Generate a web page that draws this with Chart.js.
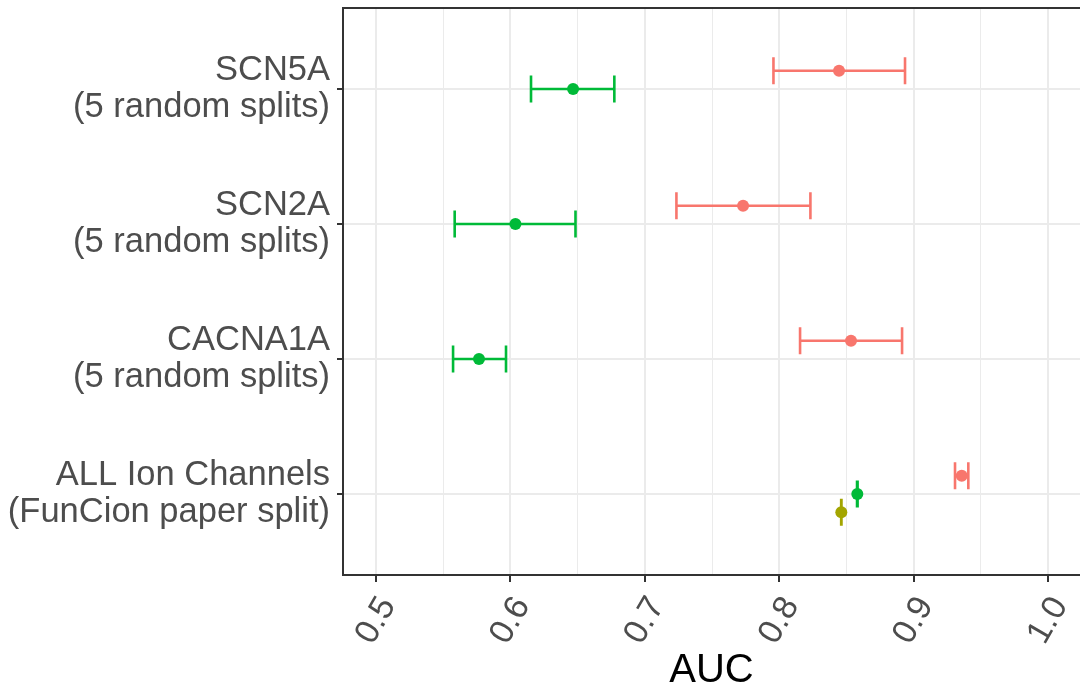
<!DOCTYPE html>
<html>
<head>
<meta charset="utf-8">
<script src="https://cdn.jsdelivr.net/npm/chart.js@4.4.1/dist/chart.umd.min.js"></script>
<style>
  html, body { margin: 0; padding: 0; background: #fff; }
  #wrap { width: 1080px; height: 687px; }
</style>
</head>
<body>
<div id="wrap"><canvas id="aucChart"></canvas></div>
<script>
// categories, top to bottom
const categories = [
  ["SCN5A", "(5 random splits)"],
  ["SCN2A", "(5 random splits)"],
  ["CACNA1A", "(5 random splits)"],
  ["ALL Ion Channels", "(FunCion paper split)"]
];

// values (null = no point in that row)
const redAuc    = [0.8445, 0.7731, 0.8534, 0.9358];
const redLow    = [0.7957, 0.7235, 0.8155, 0.9308];
const redHigh   = [0.8936, 0.8232, 0.8914, 0.9407];

const greenAuc  = [0.6466, 0.6037, 0.5766, 0.8581];
const greenLow  = [0.6153, 0.5585, 0.5573, 0.8579];
const greenHigh = [0.6773, 0.6484, 0.5967, 0.8583];

const oliveAuc  = [null, null, null, 0.8462];
const oliveLow  = [null, null, null, 0.8461];
const oliveHigh = [null, null, null, 0.8463];

const xMajorTicks = [0.5, 0.6, 0.7, 0.8, 0.9, 1.0];
const xMinorTicks = [0.55, 0.65, 0.75, 0.85, 0.95];

const FONT = "'Liberation Sans', Arial, Helvetica, sans-serif";

function makePoints(mid, lo, hi, dodge) {
    let pts = [];
    for (let i = 0; i < mid.length; i++) {
        if (mid[i] === null) continue;
        pts.push({ x: mid[i], y: i + dodge, lo: lo[i], hi: hi[i] });
    }
    return pts;
}

function isMajor(v) {
    return xMajorTicks.some(t => Math.abs(t - v) < 1e-9);
}

// horizontal error bars with end caps, drawn under the points
const errorBars = {
    id: "errorBars",
    beforeDatasetsDraw(chart) {
        const ctx = chart.ctx;
        const xs = chart.scales.x, ys = chart.scales.y;
        chart.data.datasets.forEach(ds => {
            ctx.save();
            ctx.strokeStyle = ds.borderColor;
            ctx.lineWidth = 2.6;
            ds.data.forEach(p => {
                const x1 = xs.getPixelForValue(p.lo);
                const x2 = xs.getPixelForValue(p.hi);
                const y = ys.getPixelForValue(p.y);
                const c1 = ys.getPixelForValue(p.y - 0.1);
                const c2 = ys.getPixelForValue(p.y + 0.1);
                ctx.beginPath();
                ctx.moveTo(x1, y); ctx.lineTo(x2, y);
                ctx.moveTo(x1, c1); ctx.lineTo(x1, c2);
                ctx.moveTo(x2, c1); ctx.lineTo(x2, c2);
                ctx.stroke();
            });
            ctx.restore();
        });
    }
};

// top edge of the panel frame
const panelTop = {
    id: "panelTop",
    afterDraw(chart) {
        const a = chart.chartArea, ctx = chart.ctx;
        ctx.save();
        ctx.strokeStyle = "#333333";
        ctx.lineWidth = 2;
        ctx.beginPath();
        ctx.moveTo(a.left - 1, a.top);
        ctx.lineTo(a.right + 1, a.top);
        ctx.stroke();
        ctx.restore();
    }
};

let chart = new Chart(document.getElementById("aucChart"), {
    type: "scatter",
    data: {
        datasets: [
            {
                label: "red",
                data: makePoints(redAuc, redLow, redHigh, -0.135),
                backgroundColor: "#F8766D",
                borderColor: "#F8766D",
                pointRadius: 6,
                borderWidth: 0
            },
            {
                label: "green",
                data: makePoints(greenAuc, greenLow, greenHigh, 0),
                backgroundColor: "#00BA38",
                borderColor: "#00BA38",
                pointRadius: 6,
                borderWidth: 0
            },
            {
                label: "olive",
                data: makePoints(oliveAuc, oliveLow, oliveHigh, 0.135),
                backgroundColor: "#A3A500",
                borderColor: "#A3A500",
                pointRadius: 6,
                borderWidth: 0
            }
        ]
    },
    options: {
        responsive: true,
        maintainAspectRatio: false,
        animation: false,
        layout: {
            autoPadding: false,
            padding: { top: 8, right: 0, left: 0, bottom: 0 }
        },
        plugins: {
            legend: { display: false },
            tooltip: { enabled: false }
        },
        scales: {
            x: {
                type: "linear",
                min: 0.4754,
                max: 1.0238,
                afterBuildTicks: function(scale) {
                    scale.ticks = xMajorTicks.concat(xMinorTicks)
                        .sort((a, b) => a - b)
                        .map(v => ({ value: v }));
                },
                afterFit: function(scale) {
                    scale.height = 112;
                    scale.paddingLeft = 0;
                    scale.paddingRight = 0;
                },
                grid: {
                    color: "#EBEBEB",
                    lineWidth: ctx => isMajor(ctx.tick.value) ? 2 : 1,
                    tickColor: ctx => isMajor(ctx.tick.value) ? "#333333" : "rgba(0,0,0,0)",
                    tickLength: 7,
                    tickWidth: 2
                },
                border: { color: "#333333", width: 2 },
                ticks: {
                    autoSkip: false,
                    minRotation: 60,
                    maxRotation: 60,
                    labelOffset: 12,
                    padding: 8,
                    color: "#4D4D4D",
                    font: { family: FONT, size: 34 },
                    callback: value => isMajor(value) ? value.toFixed(1) : ""
                },
                title: {
                    display: true,
                    text: "AUC",
                    color: "#000000",
                    font: { family: FONT, size: 40, lineHeight: 1 },
                    padding: { top: 0, bottom: -4 }
                }
            },
            y: {
                type: "linear",
                reverse: true,
                min: -0.6,
                max: 3.6,
                afterBuildTicks: function(scale) {
                    scale.ticks = categories.map((c, i) => ({ value: i }));
                },
                afterFit: function(scale) {
                    scale.width = 343;
                    scale.paddingTop = 0;
                    scale.paddingBottom = 0;
                },
                grid: {
                    color: "#EBEBEB",
                    lineWidth: 2,
                    tickColor: "#333333",
                    tickLength: 6,
                    tickWidth: 2
                },
                border: { color: "#333333", width: 2 },
                ticks: {
                    autoSkip: false,
                    padding: 7,
                    color: "#4D4D4D",
                    font: { family: FONT, size: 34.5, lineHeight: 1.08 },
                    callback: value => categories[value]
                }
            }
        }
    },
    plugins: [errorBars, panelTop]
});
</script>
</body>
</html>
